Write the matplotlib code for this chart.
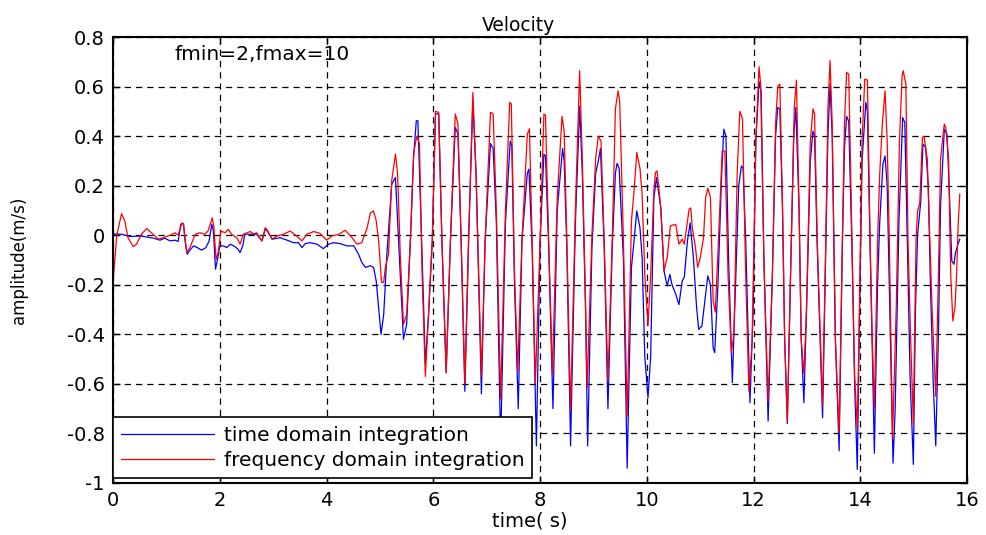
import matplotlib
matplotlib.use("Agg")
import matplotlib.pyplot as plt

# ---------------- data ----------------
red_t = [0.0, 0.07, 0.16, 0.22, 0.28, 0.38, 0.44, 0.53, 0.63, 0.72, 0.85, 0.94, 1.07, 1.16, 1.22, 1.29, 1.32,
         1.38, 1.44, 1.54, 1.63, 1.72, 1.78, 1.86, 1.89, 1.93, 1.97, 2.02, 2.10, 2.16, 2.22, 2.32, 2.38, 2.44,
         2.51, 2.57, 2.63, 2.69, 2.79, 2.85, 2.88, 2.98, 3.07, 3.19, 3.32, 3.44, 3.54, 3.63, 3.76, 3.88, 4.0,
         4.1, 4.23, 4.35, 4.45, 4.57, 4.66, 4.76, 4.82, 4.88, 4.93, 4.975, 5.03, 5.07, 5.1, 5.16, 5.22, 5.29,
         5.33, 5.38, 5.44, 5.5, 5.57, 5.63, 5.69, 5.74, 5.79, 5.85, 5.91, 5.98, 6.04, 6.1, 6.16, 6.24, 6.32,
         6.41, 6.46, 6.52, 6.59, 6.66, 6.74, 6.8, 6.9, 6.97, 7.07, 7.12, 7.18, 7.26, 7.35, 7.43, 7.46, 7.52,
         7.58, 7.66, 7.76, 7.8, 7.85, 7.91, 8.0, 8.07, 8.1, 8.16, 8.23, 8.32, 8.41, 8.45, 8.5, 8.57, 8.66,
         8.74, 8.79, 8.85, 8.88, 8.97, 9.04, 9.09, 9.14, 9.2, 9.27, 9.35, 9.41, 9.46, 9.49, 9.56, 9.63, 9.71,
         9.76, 9.81, 9.87, 9.91, 9.96, 10.02, 10.07, 10.13, 10.16, 10.19, 10.26, 10.32, 10.38, 10.44, 10.54,
         10.6, 10.66, 10.7, 10.79, 10.82, 10.85, 10.91, 10.95, 11.0, 11.06, 11.1, 11.14, 11.19, 11.24, 11.28,
         11.34, 11.41, 11.46, 11.52, 11.58, 11.63, 11.69, 11.74, 11.79, 11.85, 11.91, 11.97, 12.04, 12.1,
         12.13, 12.19, 12.27, 12.35, 12.41, 12.45, 12.49, 12.54, 12.58, 12.63, 12.69, 12.76, 12.8, 12.85,
         12.89, 12.94, 12.99, 13.06, 13.11, 13.14, 13.19, 13.29, 13.35, 13.39, 13.43, 13.47, 13.53, 13.6,
         13.66, 13.7, 13.74, 13.78, 13.84, 13.89, 13.94, 13.98, 14.03, 14.08, 14.13, 14.18, 14.22, 14.26,
         14.32, 14.36, 14.41, 14.46, 14.5, 14.54, 14.6, 14.67, 14.73, 14.78, 14.8, 14.85, 14.89, 14.94, 14.99,
         15.04, 15.07, 15.11, 15.16, 15.19, 15.25, 15.31, 15.34, 15.41, 15.46, 15.5, 15.57, 15.6, 15.65,
         15.69, 15.73, 15.77, 15.8, 15.83, 15.86]
red_v = [-0.19, 0.0, 0.087, 0.058, -0.01, -0.046, -0.036, 0.004, 0.027, 0.01, -0.016, -0.01, 0.0, 0.01, 0.0,
         0.05, 0.044, -0.07, -0.05, 0.004, 0.01, 0.004, 0.017, 0.07, 0.03, -0.097, -0.07, 0.017, 0.01, 0.024,
         0.004, -0.01, -0.036, 0.004, 0.01, 0.015, 0.005, 0.01, -0.023, 0.03, 0.025, -0.016, -0.003, 0.004,
         0.017, -0.003, -0.023, 0.004, 0.015, 0.007, -0.02, -0.003, 0.004, 0.02, -0.003, -0.036, -0.03, 0.03,
         0.09, 0.098, 0.058, -0.023, -0.19, -0.19, -0.13, -0.077, 0.22, 0.327, 0.25, -0.077, -0.36, -0.32,
         -0.02, 0.33, 0.40, 0.37, -0.16, -0.57, -0.32, -0.02, 0.50, 0.496, -0.02, -0.555, -0.02, 0.49, 0.45,
         -0.02, -0.60, -0.02, 0.576, 0.246, -0.57, -0.02, 0.496, 0.49, 0.1, -0.66, 0.1, 0.536, 0.53, -0.15,
         -0.55, -0.02, 0.408, 0.43, -0.02, -0.60, -0.02, 0.489, 0.485, -0.02, -0.56, 0.15, 0.48, 0.42, -0.02,
         -0.71, 0.1, 0.664, 0.31, -0.27, -0.62, 0.0, 0.31, 0.40, 0.38, -0.02, -0.59, -0.02, 0.51, 0.583, 0.54,
         -0.02, -0.73, 0.058, 0.18, 0.334, 0.27, 0.166, -0.16, -0.366, -0.16, 0.18, 0.253, 0.26, 0.11, -0.144,
         -0.09, 0.038, 0.044, -0.036, -0.016, -0.036, 0.105, 0.11, 0.03, -0.05, -0.13, -0.09, -0.01, 0.152,
         0.19, 0.152, -0.265, -0.31, -0.02, 0.34, 0.34, -0.16, -0.474, -0.40, 0.246, 0.50, 0.47, -0.16, -0.63,
         -0.43, 0.38, 0.68, 0.61, -0.09, -0.67, -0.16, 0.45, 0.60, 0.61, 0.11, -0.42, -0.75, -0.16, 0.516,
         0.626, 0.11, -0.42, -0.56, -0.29, 0.38, 0.51, 0.49, -0.02, -0.69, -0.02, 0.51, 0.705, 0.45, -0.42,
         -0.80, -0.02, 0.45, 0.657, 0.65, -0.02, -0.56, -0.78, -0.29, 0.38, 0.63, 0.626, -0.02, -0.42, -0.70,
         -0.02, 0.246, 0.45, 0.583, 0.38, -0.02, -0.82, -0.29, 0.38, 0.644, 0.664, 0.61, -0.02, -0.42, -0.764,
         -0.02, 0.098, 0.13, 0.395, 0.40, 0.31, -0.09, -0.29, -0.65, -0.16, 0.31, 0.449, 0.43, 0.31, -0.158,
         -0.346, -0.29, -0.16, 0.045, 0.166]

blue_t = [0.0, 0.02, 0.16, 0.32, 0.51, 0.63, 0.76, 0.88, 0.97, 1.07, 1.16, 1.22, 1.27, 1.32, 1.35, 1.39, 1.44,
          1.51, 1.58, 1.66, 1.74, 1.8, 1.85, 1.88, 1.92, 1.97, 2.0, 2.07, 2.13, 2.2, 2.29, 2.34, 2.38, 2.43,
          2.47, 2.57, 2.69, 2.79, 2.85, 2.89, 2.98, 3.13, 3.26, 3.38, 3.47, 3.54, 3.6, 3.69, 3.82, 3.94, 4.04,
          4.13, 4.26, 4.38, 4.51, 4.6, 4.66, 4.73, 4.82, 4.88, 4.93, 5.02, 5.07, 5.13, 5.22, 5.29, 5.35, 5.44,
          5.5, 5.57, 5.63, 5.68, 5.71, 5.79, 5.85, 5.91, 5.98, 6.04, 6.1, 6.16, 6.24, 6.32, 6.41, 6.46, 6.52,
          6.59, 6.66, 6.74, 6.8, 6.9, 6.97, 7.07, 7.12, 7.18, 7.26, 7.35, 7.44, 7.47, 7.52, 7.59, 7.66, 7.76,
          7.79, 7.85, 7.93, 8.0, 8.07, 8.1, 8.16, 8.24, 8.32, 8.42, 8.45, 8.5, 8.57, 8.66, 8.74, 8.79, 8.85,
          8.89, 8.97, 9.04, 9.09, 9.13, 9.2, 9.27, 9.35, 9.41, 9.44, 9.48, 9.56, 9.63, 9.71, 9.76, 9.81, 9.87,
          9.91, 9.96, 10.02, 10.07, 10.13, 10.18, 10.26, 10.32, 10.38, 10.43, 10.47, 10.54, 10.6, 10.66, 10.7,
          10.76, 10.81, 10.87, 10.93, 10.97, 11.03, 11.1, 11.14, 11.19, 11.24, 11.27, 11.33, 11.4, 11.44,
          11.48, 11.53, 11.6, 11.66, 11.72, 11.77, 11.8, 11.85, 11.93, 11.99, 12.04, 12.1, 12.14, 12.19,
          12.27, 12.35, 12.41, 12.45, 12.49, 12.54, 12.58, 12.63, 12.69, 12.75, 12.79, 12.85, 12.89, 12.94,
          12.99, 13.06, 13.11, 13.14, 13.19, 13.29, 13.35, 13.39, 13.43, 13.47, 13.53, 13.6, 13.66, 13.7,
          13.74, 13.78, 13.84, 13.89, 13.94, 13.98, 14.03, 14.1, 14.13, 14.18, 14.22, 14.26, 14.32, 14.36,
          14.42, 14.46, 14.5, 14.54, 14.61, 14.65, 14.72, 14.79, 14.83, 14.87, 14.93, 14.99, 15.03, 15.07,
          15.13, 15.17, 15.22, 15.27, 15.31, 15.36, 15.41, 15.46, 15.5, 15.57, 15.62, 15.66, 15.71, 15.75,
          15.78, 15.82, 15.86]
blue_v = [0.0, 0.005, 0.004, -0.005, -0.003, -0.007, -0.012, -0.02, -0.012, -0.023, -0.02, -0.025, 0.044,
          0.047, -0.023, -0.077, -0.06, -0.043, -0.05, -0.06, -0.05, -0.023, 0.044, 0.017, -0.137, -0.083,
          -0.043, -0.043, -0.05, -0.036, -0.047, -0.056, -0.07, -0.043, 0.004, 0.004, 0.004, -0.023, 0.024,
          0.017, -0.016, -0.01, -0.02, -0.03, -0.03, -0.05, -0.034, -0.03, -0.036, -0.054, -0.036, -0.03,
          -0.034, -0.043, -0.043, -0.077, -0.11, -0.13, -0.123, -0.13, -0.185, -0.40, -0.32, -0.077, 0.206,
          0.233, -0.03, -0.42, -0.36, -0.02, 0.314, 0.462, 0.462, -0.09, -0.52, -0.32, -0.02, 0.49, 0.49,
          -0.02, -0.555, -0.02, 0.435, 0.41, -0.02, -0.63, -0.02, 0.543, 0.246, -0.64, -0.02, 0.37, 0.35,
          0.05, -0.85, 0.05, 0.38, 0.36, -0.2, -0.70, -0.02, 0.25, 0.267, -0.05, -0.85, -0.02, 0.327, 0.32,
          -0.05, -0.70, 0.1, 0.35, 0.30, -0.05, -0.85, 0.05, 0.52, 0.25, -0.3, -0.85, -0.05, 0.25, 0.30, 0.35,
          -0.05, -0.70, -0.05, 0.25, 0.29, 0.27, -0.1, -0.94, -0.13, -0.02, 0.098, 0.03, -0.09, -0.49, -0.656,
          -0.49, 0.15, 0.233, 0.11, -0.144, -0.205, -0.158, -0.2, -0.238, -0.28, -0.185, -0.17, -0.02, 0.05,
          -0.09, -0.29, -0.38, -0.366, -0.238, -0.164, -0.2, -0.454, -0.474, -0.2, 0.246, 0.428, 0.40, -0.1,
          -0.595, -0.2, 0.2, 0.28, 0.27, -0.02, -0.676, -0.3, 0.38, 0.62, 0.58, -0.09, -0.75, -0.16, 0.40,
          0.516, 0.51, 0.1, -0.42, -0.76, -0.16, 0.40, 0.516, 0.1, -0.42, -0.676, -0.3, 0.3, 0.42, 0.40,
          -0.05, -0.737, -0.05, 0.40, 0.61, 0.40, -0.42, -0.87, -0.05, 0.35, 0.48, 0.46, -0.05, -0.6, -0.945,
          -0.35, 0.3, 0.536, 0.5, -0.05, -0.45, -0.88, -0.2, 0.05, 0.287, 0.32, 0.2, -0.2, -0.92, -0.7, 0.05,
          0.475, 0.455, 0.05, -0.58, -0.925, -0.3, 0.004, 0.139, 0.368, 0.354, 0.2, -0.2, -0.58, -0.85, -0.4,
          0.12, 0.428, 0.408, 0.2, -0.104, -0.117, -0.07, -0.04, -0.016]

x_ticks = [0, 2, 4, 6, 8, 10, 12, 14, 16]
x_labels = ["0", "2", "4", "6", "8", "10", "12", "14", "16"]
y_ticks = [-1, -0.8, -0.6, -0.4, -0.2, 0, 0.2, 0.4, 0.6, 0.8]
y_labels = ["-1", "-0.8", "-0.6", "-0.4", "-0.2", "0", "0.2", "0.4", "0.6", "0.8"]
series_names = ["time domain integration", "frequency domain integration"]

# ---------------- plot ----------------
plt.rcParams['font.family'] = ['DejaVu Sans']
fig = plt.figure(figsize=(9.87, 5.35), dpi=100)
ax = fig.add_axes([0.1145, 0.0972, 0.8655, 0.8336])

ax.plot(blue_t, blue_v, color=(0, 0, 1), lw=0.9, label=series_names[0])
ax.plot(red_t, red_v, color=(1, 0, 0), lw=0.9, label=series_names[1])

ax.set_xlim(0, 16)
ax.set_ylim(-1, 0.8)
ax.set_xticks(x_ticks)
ax.set_xticklabels(x_labels, fontsize=14)
ax.set_yticks(y_ticks)
ax.set_yticklabels(y_labels, fontsize=14)
ax.tick_params(direction='in', length=5, width=1, top=True, right=True, pad=6)
ax.grid(True, color='black', linestyle=(0, (5, 4)), linewidth=0.9)
for s in ax.spines.values():
    s.set_linewidth(1.5)

ax.set_title("Velocity", fontsize=13.5, pad=4, x=0.475)
ax.set_xlabel("time( s)", fontsize=14, labelpad=1, x=0.488)
ax.set_ylabel("amplitude(m/s)", fontsize=12)
ax.yaxis.set_label_coords(-0.1, 0.5)
ax.text(1.15, 0.728, "fmin=2,fmax=10", fontsize=14.5, va='center', ha='left')

leg = ax.legend(loc='lower left', bbox_to_anchor=(0, 0.012), borderaxespad=0, fontsize=14.5,
                handlelength=4.6, handletextpad=0.5, labelspacing=0.3, borderpad=0.4,
                fancybox=False, framealpha=1, edgecolor='black')
leg.get_frame().set_linewidth(1.2)
leg.set_zorder(10)

fig.savefig("out.png", dpi=100)
